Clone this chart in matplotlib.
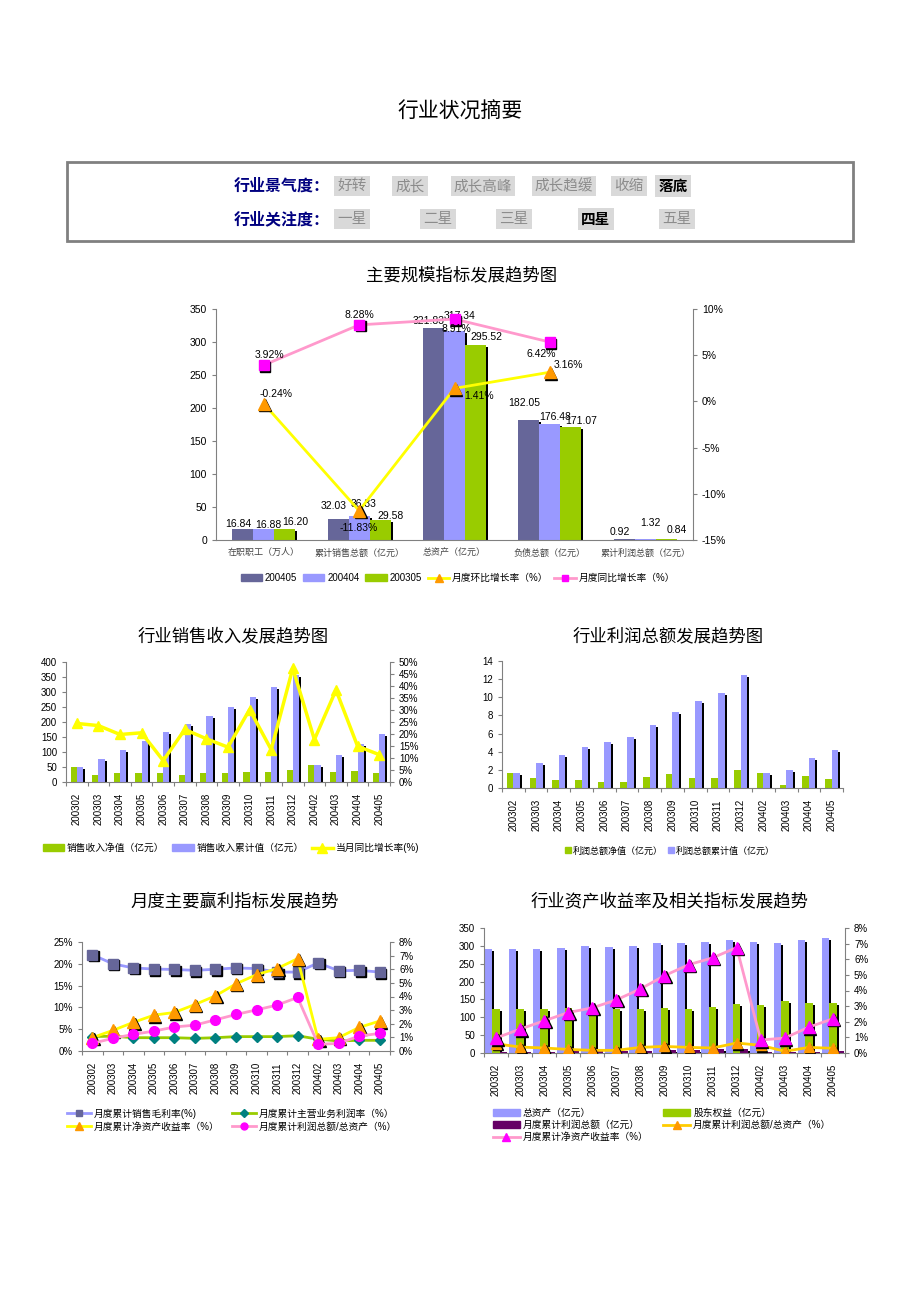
import matplotlib
matplotlib.use('Agg')
import matplotlib.pyplot as plt
import numpy as np
from matplotlib.patches import Patch, Rectangle
from matplotlib.lines import Line2D
from matplotlib.transforms import offset_copy
from matplotlib.ticker import FuncFormatter, MultipleLocator

plt.rcParams['font.family'] = ['Liberation Sans', 'Noto Sans CJK SC']
CJK = ['Noto Sans CJK SC', 'Liberation Sans']

# ---------------- data ----------------
scale_cats = ['在职职工（万人）', '累计销售总额（亿元）', '总资产（亿元）', '负债总额（亿元）', '累计利润总额（亿元）']
scale_200405 = [16.84, 32.03, 321.83, 182.05, 0.92]
scale_200404 = [16.88, 36.33, 317.34, 176.48, 1.32]
scale_200305 = [16.20, 29.58, 295.52, 171.07, 0.84]
mom_growth = [-0.24, -11.83, 1.41, 3.16]
yoy_growth = [3.92, 8.28, 8.91, 6.42]

months = ['200302', '200303', '200304', '200305', '200306', '200307', '200308', '200309',
          '200310', '200311', '200312', '200402', '200403', '200404', '200405']
sales_net = [51, 25, 30, 30, 30, 25, 30, 30, 33, 33, 41, 58, 33, 36, 30]
sales_cum = [50, 77, 108, 136, 167, 193, 221, 251, 284, 318, 358, 58, 91, 127, 161]
sales_yoy = [24.4, 23.5, 19.8, 20.5, 8.9, 21.9, 18.0, 14.5, 30.2, 13.5, 47.4, 17.7, 38.3, 14.9, 11.4]

profit_net = [1.6, 1.13, 0.9, 0.84, 0.69, 0.62, 1.24, 1.53, 1.13, 1.06, 2.0, 1.6, 0.37, 1.35, 0.99]
profit_cum = [1.6, 2.74, 3.6, 4.5, 5.1, 5.67, 6.9, 8.37, 9.58, 10.5, 12.5, 1.6, 2.0, 3.29, 4.24]

gross_margin = [22.1, 20.0, 19.05, 18.8, 18.7, 18.5, 18.75, 19.05, 18.9, 18.1, 18.1, 20.2, 18.4, 18.5, 18.1]
main_margin = [3.3, 3.4, 3.05, 3.05, 3.05, 2.9, 3.05, 3.3, 3.3, 3.3, 3.5, 2.7, 2.3, 2.45, 2.45]
roe = [0.98, 1.51, 2.1, 2.63, 2.83, 3.41, 4.05, 4.93, 5.6, 6.05, 6.78, 0.85, 0.98, 1.73, 2.2]
profit_to_assets = [0.56, 0.93, 1.22, 1.46, 1.76, 1.9, 2.29, 2.68, 3.02, 3.37, 3.93, 0.49, 0.56, 1.1, 1.29]

total_assets = [290.6, 292.5, 292.5, 295, 299, 297, 299, 308, 308, 310, 315.7, 311, 308, 317.34, 321.83]
equity = [122.6, 123.5, 123.5, 125, 124.4, 123.5, 123.5, 126, 123.5, 128, 138, 134.6, 145.8, 140, 140]
month_profit_ratio = [0.59, 0.38, 0.32, 0.23, 0.17, 0.17, 0.36, 0.42, 0.36, 0.32, 0.64, 0.49, 0.11, 0.36, 0.3]
month_roe = [0.96, 1.53, 2.06, 2.59, 2.89, 3.4, 4.1, 4.95, 5.65, 6.09, 6.75, 0.83, 0.96, 1.66, 2.19]

boom_opts = ['好转', '成长', '成长高峰', '成长趋缓', '收缩', '落底']
boom_pick = '落底'
focus_opts = ['一星', '二星', '三星', '四星', '五星']
focus_pick = '四星'

# ---------------- styles ----------------
PURPLE = '#666699'
LAV = '#9999FF'
GREEN = '#99CC00'
YEL = '#FFFF00'
ORANGE = '#FF9900'
PINK = '#FF99CC'
MAG = '#FF00FF'
TEAL = '#008080'
DPURP = '#660066'
GOLD = '#FFCC00'
SPINE = '#808080'

W, H = 920, 1302
fig = plt.figure(figsize=(W / 100, H / 100), dpi=100)


def rect(x0, y0, x1, y1):
    return [x0 / W, 1 - y1 / H, (x1 - x0) / W, (y1 - y0) / H]


def shadow_bar(ax, x, h, w, color):
    tr = offset_copy(ax.transData, fig=fig, x=2, y=-2, units='dots')
    ax.bar(x, h, w, color='black', transform=tr, zorder=1.5, linewidth=0)
    ax.bar(x, h, w, color=color, zorder=2, linewidth=0)


def marked_line(ax, x, y, lcolor, marker, mcolor, ms, lw=2, shadow=True, z=3):
    ax.plot(x, y, color=lcolor, lw=lw, zorder=z)
    if shadow:
        tr = offset_copy(ax.transData, fig=fig, x=1.5, y=-1.5, units='dots')
        ax.plot(x, y, ls='none', marker=marker, ms=ms, color='black', transform=tr, zorder=z + 0.1)
    ax.plot(x, y, ls='none', marker=marker, ms=ms, mfc=mcolor, mec=mcolor, zorder=z + 0.2)


def style_axes(ax, right=None, fs=7):
    for s in ['top']:
        ax.spines[s].set_visible(False)
    ax.spines['right'].set_visible(False)
    for s in ['left', 'bottom']:
        ax.spines[s].set_color(SPINE)
    ax.tick_params(axis='y', colors=SPINE, labelcolor='black', labelsize=fs, length=3, width=0.8)
    if right is not None:
        right.spines['top'].set_visible(False)
        right.spines['left'].set_visible(False)
        right.spines['bottom'].set_visible(False)
        right.spines['right'].set_color(SPINE)
        right.tick_params(axis='y', colors=SPINE, labelcolor='black', labelsize=fs, length=3, width=0.8)


def month_axis(ax, n):
    ax.set_xlim(-0.5, n - 0.5)
    ax.set_xticks(np.arange(n))
    ax.set_xticklabels(months, rotation=90, fontsize=7)
    ax.set_xticks(np.arange(n + 1) - 0.5, minor=True)
    ax.tick_params(axis='x', which='major', length=0, pad=8)
    ax.tick_params(axis='x', which='minor', length=3, color=SPINE, width=0.8)


pct = FuncFormatter(lambda v, p: f'{v:.0f}%')

# ---------------- header ----------------
bg = fig.add_axes([0, 0, 1, 1])
bg.set_xlim(0, W)
bg.set_ylim(H, 0)
bg.axis('off')
bg.patch.set_visible(False)

bg.text(460, 112, '行业状况摘要', ha='center', va='center', fontsize=15, family=CJK)
bg.add_patch(Rectangle((67, 162), 786, 79, fill=False, edgecolor=SPINE, lw=2))

bg.text(330, 186, '行业景气度：', ha='right', va='center', fontsize=11.5, color='#000080',
        weight='bold', family=CJK)
bg.text(330, 219, '行业关注度：', ha='right', va='center', fontsize=11.5, color='#000080',
        weight='bold', family=CJK)
boom_x = [352, 410, 483, 564, 629, 673]
focus_x = [352, 438, 514, 596, 677]
for lab, xc in zip(boom_opts, boom_x):
    sel = lab == boom_pick
    bg.text(xc, 186, lab, ha='center', va='center', fontsize=10.5, family=CJK,
            color='black' if sel else '#8C8C8C', weight='bold' if sel else 'normal',
            bbox=dict(boxstyle='square,pad=0.2', fc='#D9D9D9', ec='none'))
for lab, xc in zip(focus_opts, focus_x):
    sel = lab == focus_pick
    bg.text(xc, 219, lab, ha='center', va='center', fontsize=10.5, family=CJK,
            color='black' if sel else '#8C8C8C', weight='bold' if sel else 'normal',
            bbox=dict(boxstyle='square,pad=0.2', fc='#D9D9D9', ec='none'))

bg.text(462, 275, '主要规模指标发展趋势图', ha='center', va='center', fontsize=12.5, family=CJK)
bg.text(233, 636, '行业销售收入发展趋势图', ha='center', va='center', fontsize=12.5, family=CJK)
bg.text(668, 636, '行业利润总额发展趋势图', ha='center', va='center', fontsize=12.5, family=CJK)
bg.text(235, 901, '月度主要赢利指标发展趋势', ha='center', va='center', fontsize=12.5, family=CJK)
bg.text(670, 901, '行业资产收益率及相关指标发展趋势', ha='center', va='center', fontsize=12.5, family=CJK)

# ---------------- main scale chart ----------------
ax1 = fig.add_axes(rect(216, 309, 693, 540))
xs = np.arange(len(scale_cats))
bw = 0.22
series = [(-bw, scale_200405, PURPLE, -0.05, [5, 13, 7, 17, 7]),
          (0, scale_200404, LAV, 0.05, [4, 12, 15, 7, 16]),
          (bw, scale_200305, GREEN, 0.11, [7, 4, 8, 6, 9])]
for off, vals, col, dx, dys in series:
    shadow_bar(ax1, xs + off, vals, bw, col)
    for xi, v, dy in zip(xs, vals, dys):
        ax1.annotate(f'{v:.2f}', (xi + off + dx, v), xytext=(0, dy), textcoords='offset pixels',
                     ha='center', va='center', fontsize=7.5, zorder=6)
ax1.set_xlim(-0.5, 4.5)
ax1.set_ylim(0, 350)
ax1.yaxis.set_major_locator(MultipleLocator(50))
ax1.set_xticks(xs)
ax1.set_xticklabels(scale_cats, fontsize=6.5, color='#444444', family=CJK)
ax1.tick_params(axis='x', length=0, pad=6)
ax1r = ax1.twinx()
ax1r.set_ylim(-15, 10)
ax1r.yaxis.set_major_locator(MultipleLocator(5))
ax1r.yaxis.set_major_formatter(pct)
style_axes(ax1, ax1r, fs=7.5)
xl = xs[:len(mom_growth)]
marked_line(ax1r, xl, mom_growth, YEL, '^', ORANGE, 8)
marked_line(ax1r, xl, yoy_growth, PINK, 's', MAG, 6.5)
for xi, v, dx, dy in zip(xl, mom_growth, [0.13, 0, 0.26, 0.19], [10, -17, -8, 7]):
    ax1r.annotate(f'{v:.2f}%', (xi + dx, v), xytext=(0, dy), textcoords='offset pixels',
                  ha='center', va='center', fontsize=7.5, zorder=6)
for xi, v, dx, dy in zip(xl, yoy_growth, [0.06, 0, 0.02, -0.09], [10, 10, -10, -12]):
    ax1r.annotate(f'{v:.2f}%', (xi + dx, v), xytext=(0, dy), textcoords='offset pixels',
                  ha='center', va='center', fontsize=7.5, zorder=6)

h_main = [Patch(color=PURPLE), Patch(color=LAV), Patch(color=GREEN),
          Line2D([], [], color=YEL, lw=2, marker='^', ms=6, mfc=ORANGE, mec=ORANGE),
          Line2D([], [], color=PINK, lw=2, marker='s', ms=5, mfc=MAG, mec=MAG)]
l_main = ['200405', '200404', '200305', '月度环比增长率（%）', '月度同比增长率（%）']
fig.legend(h_main, l_main, loc='center', bbox_to_anchor=(458 / W, 1 - 578 / H), ncol=5,
           frameon=False, fontsize=7, handlelength=2.2, handleheight=0.7,
           columnspacing=0.6, handletextpad=0.3)

# ---------------- sales chart ----------------
n = len(months)
xm = np.arange(n)
ax2 = fig.add_axes(rect(66, 662, 390, 782))
w = 0.29
shadow_bar(ax2, xm - w / 2, sales_net, w, GREEN)
shadow_bar(ax2, xm + w / 2, sales_cum, w, LAV)
ax2.set_ylim(0, 400)
ax2.yaxis.set_major_locator(MultipleLocator(50))
month_axis(ax2, n)
ax2r = ax2.twinx()
ax2r.set_ylim(0, 50)
ax2r.yaxis.set_major_locator(MultipleLocator(5))
ax2r.yaxis.set_major_formatter(pct)
style_axes(ax2, ax2r)
marked_line(ax2r, xm, sales_yoy, YEL, '^', YEL, 7, lw=2.5, shadow=False)
fig.legend([Patch(color=GREEN), Patch(color=LAV),
            Line2D([], [], color=YEL, lw=2.5, marker='^', ms=7, mfc=YEL, mec=YEL)],
           ['销售收入净值（亿元）', '销售收入累计值（亿元）', '当月同比增长率(%)'],
           loc='center', bbox_to_anchor=(231 / W, 1 - 848 / H), ncol=3, frameon=False,
           fontsize=7, handlelength=2.2, handleheight=0.7, columnspacing=0.8, handletextpad=0.3)

# ---------------- profit chart ----------------
ax3 = fig.add_axes(rect(502, 661, 843, 788))
shadow_bar(ax3, xm - w / 2, profit_net, w, GREEN)
shadow_bar(ax3, xm + w / 2, profit_cum, w, LAV)
ax3.set_ylim(0, 14)
ax3.yaxis.set_major_locator(MultipleLocator(2))
month_axis(ax3, n)
style_axes(ax3)
fig.legend([Line2D([], [], ls='none', marker='s', ms=5, color=GREEN),
            Line2D([], [], ls='none', marker='s', ms=5, color=LAV)],
           ['利润总额净值（亿元）', '利润总额累计值（亿元）'],
           loc='center', bbox_to_anchor=(670 / W, 1 - 851 / H), ncol=2, frameon=False,
           fontsize=6.5, handlelength=0.6, columnspacing=0.6, handletextpad=0.2)

# ---------------- monthly profitability chart ----------------
ax4 = fig.add_axes(rect(82, 942, 390, 1051))
ax4.set_ylim(0, 25)
ax4.yaxis.set_major_locator(MultipleLocator(5))
ax4.yaxis.set_major_formatter(pct)
month_axis(ax4, n)
ax4r = ax4.twinx()
ax4r.set_ylim(0, 8)
ax4r.yaxis.set_major_locator(MultipleLocator(1))
ax4r.yaxis.set_major_formatter(pct)
style_axes(ax4, ax4r)
marked_line(ax4, xm, gross_margin, LAV, 's', PURPLE, 7)
marked_line(ax4, xm, main_margin, GREEN, 'D', TEAL, 5, shadow=False, z=3.5)
marked_line(ax4r, xm, roe, YEL, '^', ORANGE, 8)
marked_line(ax4r, xm, profit_to_assets, PINK, 'o', MAG, 7, shadow=False, z=3.5)
h4 = [Line2D([], [], color=LAV, lw=2, marker='s', ms=5, mfc=PURPLE, mec=PURPLE),
      Line2D([], [], color=YEL, lw=2, marker='^', ms=6, mfc=ORANGE, mec=ORANGE),
      Line2D([], [], color=GREEN, lw=2, marker='D', ms=4, mfc=TEAL, mec=TEAL),
      Line2D([], [], color=PINK, lw=2, marker='o', ms=5, mfc=MAG, mec=MAG)]
l4 = ['月度累计销售毛利率(%)', '月度累计净资产收益率（%）', '月度累计主营业务利润率（%）',
      '月度累计利润总额/总资产（%）']
fig.legend(h4, l4, loc='center', bbox_to_anchor=(232 / W, 1 - 1120 / H), ncol=2, frameon=False,
           fontsize=7, handlelength=2.5, columnspacing=1.2, handletextpad=0.3, labelspacing=0.3)

# ---------------- asset chart ----------------
ax5 = fig.add_axes(rect(484, 928, 845, 1053))
aw = 0.31
shadow_bar(ax5, xm - aw, total_assets, aw, LAV)
shadow_bar(ax5, xm, equity, aw, GREEN)
shadow_bar(ax5, xm + aw, profit_cum, aw, DPURP)
ax5.set_ylim(0, 350)
ax5.yaxis.set_major_locator(MultipleLocator(50))
month_axis(ax5, n)
ax5r = ax5.twinx()
ax5r.set_ylim(0, 8)
ax5r.yaxis.set_major_locator(MultipleLocator(1))
ax5r.yaxis.set_major_formatter(pct)
style_axes(ax5, ax5r)
marked_line(ax5r, xm, month_profit_ratio, GOLD, '^', ORANGE, 7)
marked_line(ax5r, xm, month_roe, PINK, '^', MAG, 8, z=3.5)
h5 = [Patch(color=LAV), Patch(color=DPURP),
      Line2D([], [], color=PINK, lw=2, marker='^', ms=6, mfc=MAG, mec=MAG),
      Patch(color=GREEN),
      Line2D([], [], color=GOLD, lw=2, marker='^', ms=6, mfc=ORANGE, mec=ORANGE)]
l5 = ['总资产（亿元）', '月度累计利润总额（亿元）', '月度累计净资产收益率（%）',
      '股东权益（亿元）', '月度累计利润总额/总资产（%）']
fig.legend(h5, l5, loc='center', bbox_to_anchor=(662 / W, 1 - 1125 / H), ncol=2, frameon=False,
           fontsize=7, handlelength=2.8, handleheight=0.7, columnspacing=1.5, handletextpad=0.3,
           labelspacing=0.2)

fig.savefig('out.png', dpi=100)
